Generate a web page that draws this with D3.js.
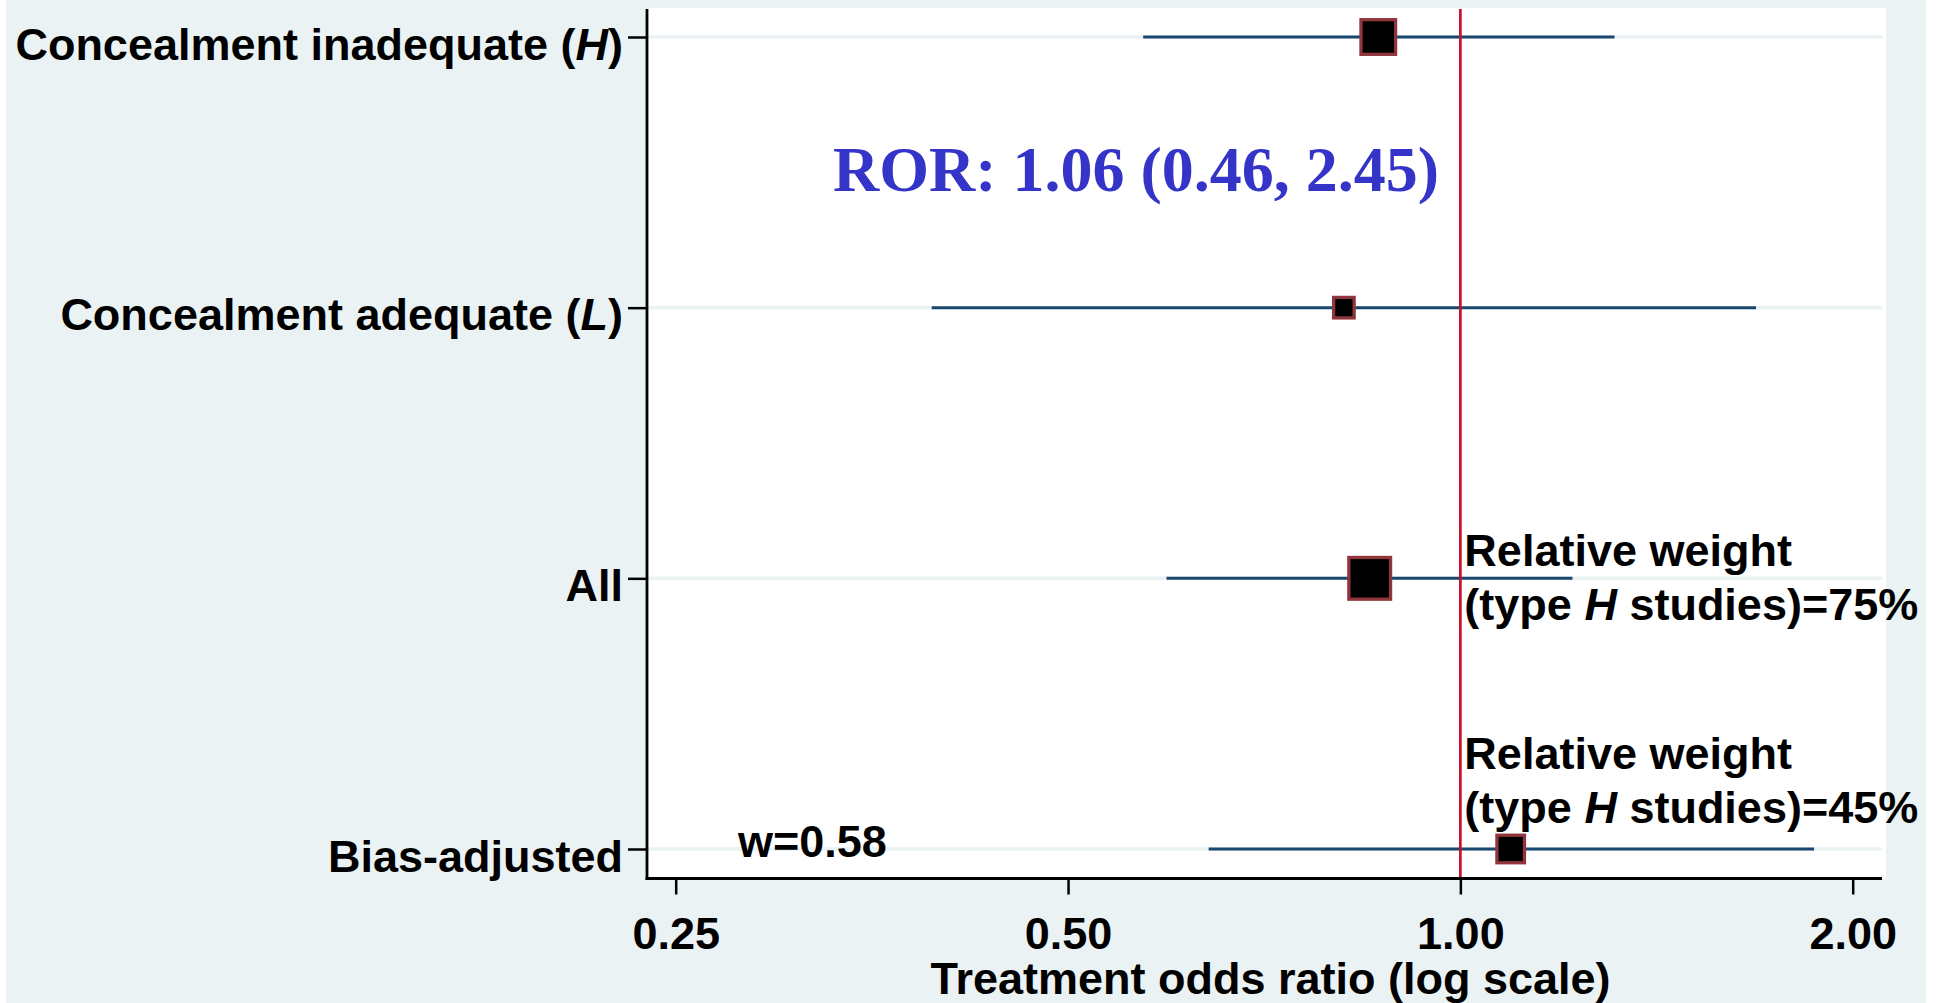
<!DOCTYPE html>
<html>
<head>
<meta charset="utf-8">
<script src="https://cdn.jsdelivr.net/npm/d3@7"></script>
<style>
  body { margin: 0; background: #fff; }
  text { font-family: "Liberation Sans", Arial, sans-serif; font-weight: bold; }
</style>
</head>
<body>
<div id="forest"></div>
<script>
// categories and estimates (odds ratios)
var categories = ["Concealment inadequate (H)", "Concealment adequate (L)", "All", "Bias-adjusted"];
var labelParts = [["Concealment inadequate (", "H", ")"], ["Concealment adequate (", "L", ")"], ["All", "", ""], ["Bias-adjusted", "", ""]];
var oddsRatio = [0.865, 0.814, 0.852, 1.093];
var ciLow = [0.571, 0.393, 0.595, 0.641];
var ciHigh = [1.313, 1.686, 1.219, 1.868];
var weights = [71, 28, 100, 47];
var xTicks = [0.25, 0.5, 1, 2];
var refValue = 1;
var rorText = "ROR: 1.06 (0.46, 2.45)";
var noteRows = ["All", "Bias-adjusted"];
var notePcts = ["75%", "45%"];
var wText = "w=0.58";

(function() {
  var W = 1944, H = 1003;
  var plot = {left: 647, right: 1886, top: 8, bottom: 879};

  var svg = d3.select("#forest").append("svg")
      .attr("width", W)
      .attr("height", H);

  // background and plot region
  svg.append("rect").attr("x", 6).attr("y", 0).attr("width", 1920).attr("height", H).attr("fill", "#eaf2f3");
  svg.append("rect").attr("x", plot.left).attr("y", plot.top)
      .attr("width", plot.right - plot.left).attr("height", plot.bottom - plot.top)
      .attr("fill", "#fff");

  // scales
  var x = d3.scaleLog().base(2).domain([0.25, 2]).range([675.7, 1852.7]);
  var y = d3.scalePoint().domain(categories).range([37, 849]);
  var size = d3.scaleSqrt().domain([0, 100]).range([0, 45]);

  var data = categories.map(function(c, i) {
    return {cat: c, or: oddsRatio[i], lo: ciLow[i], hi: ciHigh[i], w: weights[i]};
  });

  // grid lines at each row
  svg.selectAll(".grid")
      .data(data)
    .enter().append("line")
      .attr("class", "grid")
      .attr("x1", plot.left).attr("x2", plot.right - 4)
      .attr("y1", function(d) { return y(d.cat); })
      .attr("y2", function(d) { return y(d.cat); })
      .attr("stroke", "#eaf2f3")
      .attr("stroke-width", 3.5);

  // confidence intervals
  svg.selectAll(".ci")
      .data(data)
    .enter().append("line")
      .attr("class", "ci")
      .attr("x1", function(d) { return x(d.lo); })
      .attr("x2", function(d) { return x(d.hi); })
      .attr("y1", function(d) { return y(d.cat); })
      .attr("y2", function(d) { return y(d.cat); })
      .attr("stroke", "#1a476f")
      .attr("stroke-width", 3);

  // reference line at OR = 1
  svg.append("line")
      .attr("x1", x(refValue)).attr("x2", x(refValue))
      .attr("y1", plot.top + 1).attr("y2", plot.bottom)
      .attr("stroke", "#c8102e")
      .attr("stroke-width", 2.7);

  // weighted markers
  var sw = 3.3;
  svg.selectAll(".pt")
      .data(data)
    .enter().append("rect")
      .attr("class", "pt")
      .attr("x", function(d) { return x(d.or) - (size(d.w) - sw) / 2; })
      .attr("y", function(d) { return y(d.cat) - (size(d.w) - sw) / 2; })
      .attr("width", function(d) { return size(d.w) - sw; })
      .attr("height", function(d) { return size(d.w) - sw; })
      .attr("fill", "#000")
      .attr("stroke", "#90353b")
      .attr("stroke-width", sw);

  // axes frame
  svg.append("line")
      .attr("x1", plot.left).attr("x2", plot.left)
      .attr("y1", plot.top + 1).attr("y2", plot.bottom + 1)
      .attr("stroke", "#000").attr("stroke-width", 2.8);
  svg.append("line")
      .attr("x1", plot.left - 1.4).attr("x2", plot.right - 4)
      .attr("y1", plot.bottom - 0.5).attr("y2", plot.bottom - 0.5)
      .attr("stroke", "#000").attr("stroke-width", 2.8);

  // x axis
  var xAxis = svg.append("g")
      .attr("transform", "translate(0," + (plot.bottom - 0.5) + ")")
      .call(d3.axisBottom(x).tickValues(xTicks).tickFormat(d3.format(".2f")).tickSize(16).tickPadding(23));
  xAxis.select(".domain").remove();
  xAxis.selectAll(".tick line").attr("stroke", "#000").attr("stroke-width", 2.5);
  xAxis.selectAll(".tick text")
      .attr("fill", "#000")
      .style("font-size", "45px")
      .style("font-family", "'Liberation Sans', Arial, sans-serif")
      .style("font-weight", "bold");

  // y axis
  var yAxis = svg.append("g")
      .attr("transform", "translate(" + plot.left + ",0)")
      .call(d3.axisLeft(y).tickSize(19).tickPadding(5));
  yAxis.select(".domain").remove();
  yAxis.selectAll(".tick line").attr("stroke", "#000").attr("stroke-width", 2.5);
  yAxis.selectAll(".tick text")
      .attr("fill", "#000")
      .attr("dy", "0.49em")
      .style("font-size", "45px")
      .style("font-family", "'Liberation Sans', Arial, sans-serif")
      .style("font-weight", "bold")
      .each(function(c) {
        var parts = labelParts[categories.indexOf(c)];
        var t = d3.select(this).text(null);
        t.append("tspan").text(parts[0]);
        if (parts[1]) {
          t.append("tspan").style("font-style", "italic").text(parts[1]);
          t.append("tspan").text(parts[2]);
        }
      });

  // x axis title
  svg.append("text")
      .attr("x", (plot.left + plot.right) / 2 + 4)
      .attr("y", 994)
      .attr("text-anchor", "middle")
      .style("font-size", "45px")
      .text("Treatment odds ratio (log scale)");

  // ROR annotation
  svg.append("text")
      .attr("x", 833)
      .attr("y", 191)
      .attr("fill", "#3434c8")
      .style("font-family", "'Liberation Serif', 'Times New Roman', serif")
      .style("font-size", "64px")
      .style("font-weight", "bold")
      .text(rorText);

  // relative weight notes: first one straddles its row, second sits above its row
  var noteShift = [-12, -80];
  noteRows.forEach(function(row, i) {
    var yy = y(row) + noteShift[i];
    svg.append("text")
        .attr("x", x(refValue) + 4)
        .attr("y", yy)
        .style("font-size", "45px")
        .text("Relative weight");
    var t2 = svg.append("text")
        .attr("x", x(refValue) + 4)
        .attr("y", yy + 54)
        .style("font-size", "45px");
    t2.append("tspan").text("(type ");
    t2.append("tspan").style("font-style", "italic").text("H");
    t2.append("tspan").text(" studies)=" + notePcts[i]);
  });

  // w label
  svg.append("text")
      .attr("x", 738)
      .attr("y", 857)
      .style("font-size", "45px")
      .text(wText);
})();
</script>
</body>
</html>
